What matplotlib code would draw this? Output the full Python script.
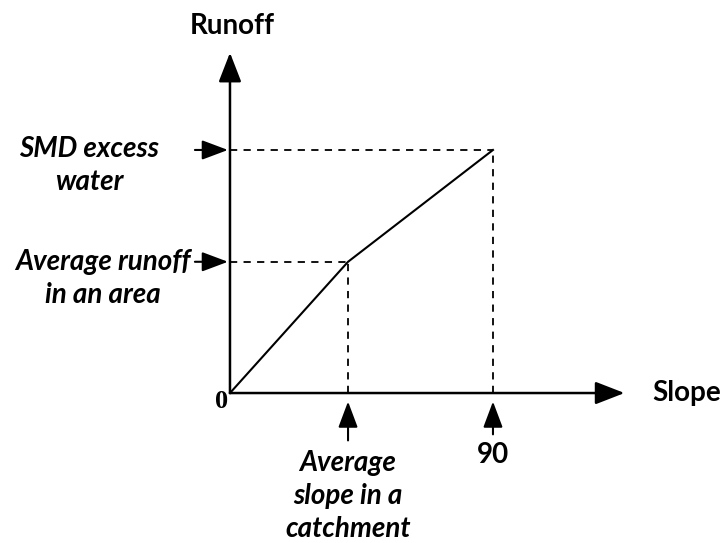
import matplotlib.pyplot as plt

# schematic values (slope in degrees, runoff in arbitrary units)
slope_pts = [0, 40.4, 90]
runoff_pts = [0, 54, 100]
slope_max = 135
runoff_top = 140

y_labels = ["SMD excess\nwater", "Average runoff\nin an area"]
y_label_vals = [runoff_pts[2], runoff_pts[1]]
x_labels = ["Average\nslope in a\ncatchment", "90"]
x_label_vals = [slope_pts[1], slope_pts[2]]

font = "Lato"

fig = plt.figure(figsize=(7.25, 5.43), dpi=100)
ax = fig.add_axes([0, 0, 1, 1])
ax.set_xlim(-78.7, 169.4)
ax.set_ylim(-61.7, 161.7)
ax.axis("off")

axis_arrow = dict(arrowstyle="-|>,head_length=0.9,head_width=0.35", color="black",
                  lw=1.8, shrinkA=0, shrinkB=0, mutation_scale=20)
ax.annotate("", xy=(0, runoff_top), xytext=(0, 0), arrowprops=axis_arrow)
ax.annotate("", xy=(slope_max, 0), xytext=(0, 0), arrowprops=axis_arrow)

ax.plot(slope_pts, runoff_pts, color="black", lw=1.5)

for xv, yv in zip(slope_pts[1:], runoff_pts[1:]):
    ax.plot([0, xv], [yv, yv], color="black", lw=1.3, ls=(0, (4, 3.5)))
    ax.plot([xv, xv], [0, yv], color="black", lw=1.3, ls=(0, (4, 3.5)))

small_arrow = dict(arrowstyle="-|>,head_length=0.8,head_width=0.3", color="black",
                   lw=1.5, shrinkA=0, shrinkB=0, mutation_scale=20)
for yv in y_label_vals:
    ax.annotate("", xy=(-0.7, yv), xytext=(-12, yv), arrowprops=small_arrow)
ax.annotate("", xy=(x_label_vals[0], -3.5), xytext=(x_label_vals[0], -19.5),
            arrowprops=small_arrow)
ax.annotate("", xy=(x_label_vals[1], -3.5), xytext=(x_label_vals[1], -17),
            arrowprops=small_arrow)

tkw = dict(family=font, weight="bold", fontsize=20)
ax.text(-48.3, 93.5, y_labels[0], style="italic", ha="center", va="center",
        linespacing=1.35, **tkw)
ax.text(-43.5, 47, y_labels[1], style="italic", ha="center", va="center",
        linespacing=1.35, **tkw)
ax.text(x_label_vals[0], -42.4, x_labels[0], style="italic", ha="center",
        va="center", linespacing=1.35, **tkw)
ax.text(x_label_vals[1], -25.5, x_labels[1], ha="center", va="center", **tkw)
ax.text(0.8, 151, "Runoff", ha="center", va="center", **tkw)
ax.text(slope_max + 9.5, 0, "Slope", ha="left", va="center", **tkw)
ax.text(-3, -3.5, "0", family="Liberation Serif", weight="bold", fontsize=19,
        ha="center", va="center")

fig.savefig("out.png", dpi=100)
